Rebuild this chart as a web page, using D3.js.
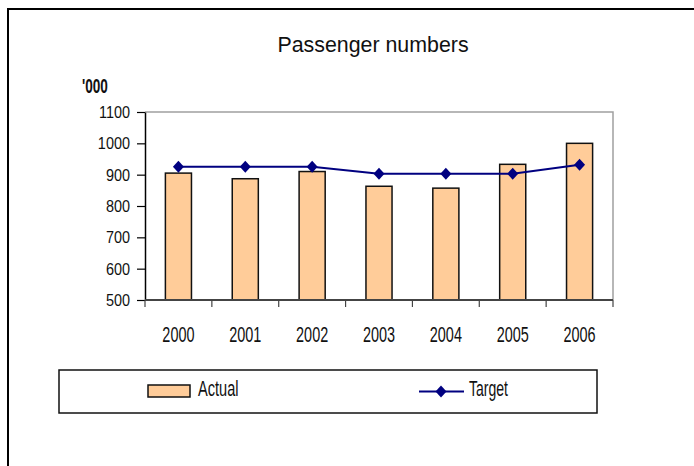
<!DOCTYPE html>
<html>
<head>
<meta charset="utf-8">
<script src="https://cdn.jsdelivr.net/npm/d3@7"></script>
<style>
  body { margin: 0; background: #fff; }
  text { fill: #111; }
</style>
</head>
<body>
<svg id="chart" width="694" height="466"></svg>
<script>
// chart data
var years = ["2000", "2001", "2002", "2003", "2004", "2005", "2006"];
var actual = [905, 887, 910, 863, 857, 933, 1000];
var target = [925, 925, 925, 903, 903, 903, 932];
var yTicks = [500, 600, 700, 800, 900, 1000, 1100];

// no narrow face installed, so squeeze the regular one
var font = "'Liberation Sans', Arial, sans-serif";

var svg = d3.select("#chart");

// plot area box
var plot = {left: 145, top: 112, right: 613, bottom: 300};

// outer frame (runs off the right and bottom edge)
svg.append("rect")
  .attr("x", 8).attr("y", 9)
  .attr("width", 800).attr("height", 600)
  .attr("fill", "none")
  .attr("stroke", "#000")
  .attr("stroke-width", 2);

svg.append("text")
  .attr("transform", "translate(373,52) scale(0.93,1)")
  .attr("text-anchor", "middle")
  .style("font-family", font)
  .style("font-size", "23px")
  .text("Passenger numbers");

svg.append("text")
  .attr("transform", "translate(82,93) scale(0.8,1.2)")
  .style("font-family", font)
  .style("font-size", "17px")
  .style("font-weight", "bold")
  .text("'000");

var x = d3.scaleBand()
  .domain(years)
  .range([plot.left, plot.right])
  .padding(0);

var y = d3.scaleLinear()
  .domain([500, 1100])
  .range([plot.bottom, plot.top]);

// top and right edges of the plot area
svg.append("path")
  .attr("d", "M" + plot.left + "," + plot.top + "H" + plot.right + "V" + plot.bottom)
  .attr("fill", "none")
  .attr("stroke", "#a0a0a0")
  .attr("stroke-width", 1.5);

// bars
var barW = x.bandwidth() * 0.39;
svg.append("g").selectAll("rect")
  .data(actual)
  .join("rect")
  .attr("x", function(d, i) { return x(years[i]) + (x.bandwidth() - barW) / 2; })
  .attr("y", function(d) { return y(d); })
  .attr("width", barW)
  .attr("height", function(d) { return y(500) - y(d); })
  .attr("fill", "#ffcc99")
  .attr("stroke", "#111")
  .attr("stroke-width", 1.5);

// y axis
var sxY = 0.85;
var yAxis = svg.append("g")
  .attr("transform", "translate(" + plot.left + ",0)")
  .call(d3.axisLeft(y).tickValues(yTicks).tickFormat(d3.format("d"))
    .tickSize(8).tickPadding(7).tickSizeOuter(0));
yAxis.select(".domain").attr("stroke", "#000").attr("stroke-width", 1.5);
yAxis.selectAll(".tick line").attr("stroke", "#000").attr("stroke-width", 1.2);
yAxis.selectAll("text")
  .attr("x", -15 / sxY)
  .attr("transform", "scale(" + sxY + ",1)")
  .style("font-family", font)
  .style("font-size", "17px")
  .attr("fill", "#111");

// x axis: ticks on the band edges, labels on band centres
var xAxis = svg.append("g")
  .attr("transform", "translate(0," + plot.bottom + ")");
xAxis.append("line")
  .attr("x1", plot.left).attr("x2", plot.right)
  .attr("stroke", "#444").attr("stroke-width", 2);
var edges = years.map(function(d) { return x(d); }).concat([plot.right]);
xAxis.selectAll("line.edge")
  .data(edges)
  .join("line")
  .attr("class", "edge")
  .attr("x1", function(d) { return d; }).attr("x2", function(d) { return d; })
  .attr("y1", 0).attr("y2", 7)
  .attr("stroke", "#444").attr("stroke-width", 1.2);
xAxis.selectAll("text")
  .data(years)
  .join("text")
  .attr("transform", function(d) {
    return "translate(" + (x(d) + x.bandwidth() / 2) + ",42) scale(0.85,1.27)";
  })
  .attr("text-anchor", "middle")
  .style("font-family", font)
  .style("font-size", "17px")
  .text(function(d) { return d; });

// target line
var diamond = "M0,-6L5.5,0L0,6L-5.5,0Z";
var line = d3.line()
  .x(function(d, i) { return x(years[i]) + x.bandwidth() / 2; })
  .y(function(d) { return y(d); });
svg.append("path")
  .datum(target)
  .attr("d", line)
  .attr("fill", "none")
  .attr("stroke", "#000080")
  .attr("stroke-width", 2);
svg.append("g").selectAll("path")
  .data(target)
  .join("path")
  .attr("d", diamond)
  .attr("transform", function(d, i) {
    return "translate(" + (x(years[i]) + x.bandwidth() / 2) + "," + y(d) + ")";
  })
  .attr("fill", "#000080");

// legend
var legend = svg.append("g");
legend.append("rect")
  .attr("x", 59).attr("y", 370)
  .attr("width", 538).attr("height", 43)
  .attr("fill", "none")
  .attr("stroke", "#111")
  .attr("stroke-width", 1.5);
legend.append("rect")
  .attr("x", 148).attr("y", 385)
  .attr("width", 42).attr("height", 12)
  .attr("fill", "#ffcc99")
  .attr("stroke", "#111")
  .attr("stroke-width", 1.5);
legend.append("text")
  .attr("transform", "translate(198,396) scale(0.81,1.19)")
  .style("font-family", font)
  .style("font-size", "18px")
  .text("Actual");
legend.append("line")
  .attr("x1", 419).attr("x2", 464)
  .attr("y1", 391.5).attr("y2", 391.5)
  .attr("stroke", "#000080")
  .attr("stroke-width", 2);
legend.append("path")
  .attr("d", diamond)
  .attr("transform", "translate(441,391.5)")
  .attr("fill", "#000080");
legend.append("text")
  .attr("transform", "translate(469,396) scale(0.78,1.19)")
  .style("font-family", font)
  .style("font-size", "18px")
  .text("Target");
</script>
</body>
</html>
